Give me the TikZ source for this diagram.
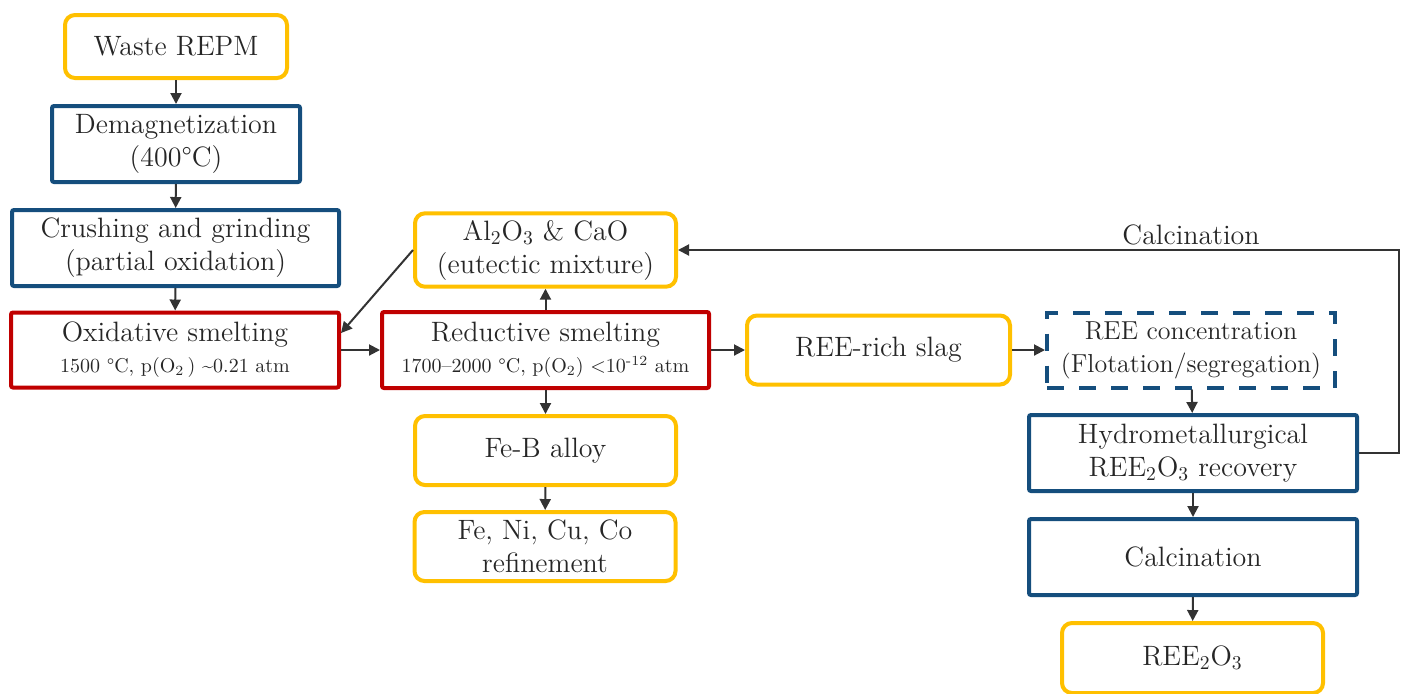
\documentclass[tikz,border=0pt]{standalone}
\usetikzlibrary{arrows.meta}
\definecolor{ylw}{HTML}{FFC000}
\definecolor{blu}{HTML}{154E7D}
\definecolor{rd}{HTML}{C00000}
\definecolor{ink}{HTML}{333333}
\newcommand{\smalltxt}{\fontsize{10}{12}\selectfont}
\newcommand{\midtxt}{\fontsize{13}{15.5}\selectfont}

\begin{document}
\begin{tikzpicture}[x=0.5pt, y=-0.5pt,
    txt/.style={text=black!85, font=\fontsize{14}{16.5}\selectfont, align=center},
    ybox/.style={txt, draw=ylw, line width=2pt, rounded corners=5pt, minimum width=130.5pt, minimum height=35pt},
    bbox/.style={txt, draw=blu, line width=2pt, rounded corners=1pt, minimum width=164pt, minimum height=38pt},
    rbox/.style={txt, draw=rd, line width=2pt, rounded corners=1pt, minimum width=164pt, minimum height=38pt},
    arr/.style={draw=ink, line width=1pt, -{Triangle[length=5.5pt,width=5.5pt]}}]
    \useasboundingbox (0, 0) rectangle (1402, 693);
    \node[ybox, minimum width=111pt, minimum height=31.5pt] (0) at (176, 46.5) {Waste REPM};
    \node[bbox, minimum width=124pt] (1) at (176, 144) {Demagnetization\\(400\textdegree C)};
    \node[bbox, minimum width=163.5pt] (2) at (175.5, 248) {Crushing and grinding\\(partial oxidation)};
    \node[rbox, minimum height=37.5pt] (3) at (175, 350) {Oxidative smelting\\[-1pt]{\smalltxt 1500 \textdegree C, p(O\textsubscript{2}\,) \textasciitilde 0.21 atm}};
    \node[ybox] (4) at (545.5, 250) {Al\textsubscript{2}O\textsubscript{3} \& CaO\\(eutectic mixture)};
    \node[rbox, minimum width=163.5pt] (5) at (545.5, 350) {Reductive smelting\\[-1pt]{\smalltxt 1700--2000 \textdegree C, p(O\textsubscript{2}) \textless 10\textsuperscript{-12} atm}};
    \node[ybox, minimum height=34.5pt] (6) at (545.5, 450.5) {Fe-B alloy};
    \node[ybox, minimum height=34.5pt] (7) at (545, 546.5) {Fe, Ni, Cu, Co\\refinement};
    \node[ybox, minimum width=131.5pt, minimum height=34.5pt] (8) at (878.5, 350) {REE-rich slag};
    \node[bbox, rounded corners=0pt, dash pattern=on 8.5pt off 7.5pt, minimum width=144pt, minimum height=37.5pt] (9) at (1191, 350) {\midtxt REE concentration\\\midtxt (Flotation/segregation)};
    \node[bbox] (10) at (1193, 453) {Hydrometallurgical\\REE\textsubscript{2}O\textsubscript{3} recovery};
    \node[bbox] (11) at (1193, 557) {Calcination};
    \node[ybox] (12) at (1192.5, 658) {REE\textsubscript{2}O\textsubscript{3}};
    \node[txt] (13) at (1191, 235) {Calcination};
    \coordinate (14) at (1399, 453);
    \draw[arr] (0) -- (1);
    \draw[arr] (1) -- (2);
    \draw[arr] (2) -- (3);
    \draw[arr] (3) -- (5);
    \draw[arr] (4.west) -- ([yshift=8.5pt]3.east);
    \draw[arr] (5) -- (4);
    \draw[arr] (5) -- (6);
    \draw[arr] (6) -- (7);
    \draw[arr] (5) -- (8);
    \draw[arr] (8) -- (9);
    \draw[arr] (9) -- (10);
    \draw[arr] (10) -- (11);
    \draw[arr] (11) -- (12);
    \draw[arr] (10.east) -- (14) |- (4.east);
\end{tikzpicture}
\end{document}
